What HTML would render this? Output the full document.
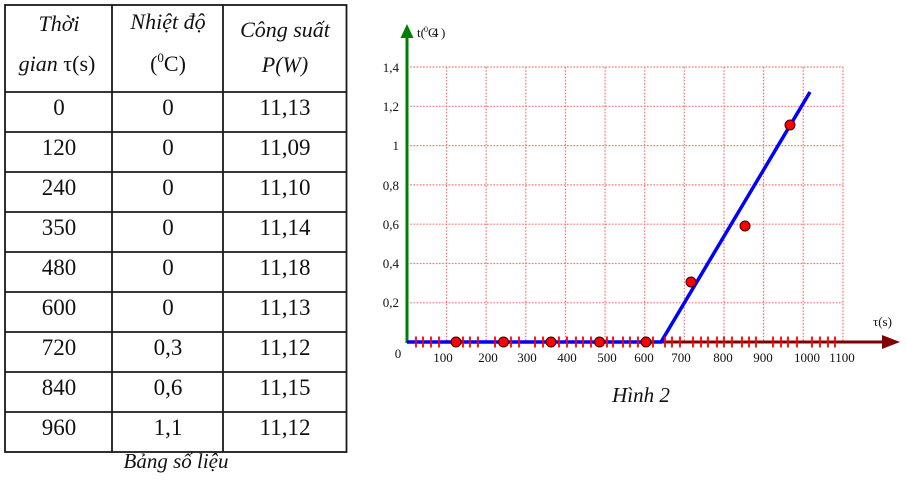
<!DOCTYPE html>
<html><head><meta charset="utf-8"><style>
html,body{margin:0;padding:0;background:#fff;}
svg{display:block;}
text{font-family:"Liberation Serif",serif;fill:#111;}
</style></head><body>
<svg width="907" height="485" viewBox="0 0 907 485" xmlns="http://www.w3.org/2000/svg">
<rect width="907" height="485" fill="#fff"/>
<!-- TABLE -->
<g stroke="#1a1a1a" stroke-width="1.8" fill="none">
<rect x="5" y="5" width="341.5" height="447"/>
<line x1="112" y1="5" x2="112" y2="452"/>
<line x1="223" y1="5" x2="223" y2="452"/>
<line x1="5" y1="92" x2="346.5" y2="92"/>
<line x1="5" y1="132" x2="346.5" y2="132"/>
<line x1="5" y1="172" x2="346.5" y2="172"/>
<line x1="5" y1="212" x2="346.5" y2="212"/>
<line x1="5" y1="252" x2="346.5" y2="252"/>
<line x1="5" y1="292" x2="346.5" y2="292"/>
<line x1="5" y1="332" x2="346.5" y2="332"/>
<line x1="5" y1="372" x2="346.5" y2="372"/>
<line x1="5" y1="412" x2="346.5" y2="412"/>
</g>
<g font-size="22" text-anchor="middle">
<text x="59" y="31" font-style="italic">Thời</text>
<text x="57" y="71"><tspan font-style="italic">gian</tspan> τ(s)</text>
<text x="168" y="29" font-style="italic">Nhiệt độ</text>
<text x="168" y="71">(<tspan font-size="13" dy="-9">0</tspan><tspan dy="9">C)</tspan></text>
<text x="285" y="37" font-style="italic">Công suất</text>
<text x="285" y="72" font-style="italic">P(W)</text>
</g>
<g font-size="23" text-anchor="middle">
<text x="59" y="115">0</text><text x="168" y="115">0</text><text x="285" y="115">11,13</text>
<text x="59" y="155">120</text><text x="168" y="155">0</text><text x="285" y="155">11,09</text>
<text x="59" y="195">240</text><text x="168" y="195">0</text><text x="285" y="195">11,10</text>
<text x="59" y="235">350</text><text x="168" y="235">0</text><text x="285" y="235">11,14</text>
<text x="59" y="275">480</text><text x="168" y="275">0</text><text x="285" y="275">11,18</text>
<text x="59" y="315">600</text><text x="168" y="315">0</text><text x="285" y="315">11,13</text>
<text x="59" y="355">720</text><text x="168" y="355">0,3</text><text x="285" y="355">11,12</text>
<text x="59" y="395">840</text><text x="168" y="395">0,6</text><text x="285" y="395">11,15</text>
<text x="59" y="435">960</text><text x="168" y="435">1,1</text><text x="285" y="435">11,12</text>
</g>
<text x="176" y="468" font-size="21" font-style="italic" text-anchor="middle">Bảng số liệu</text>

<!-- CHART GRID -->
<g stroke="#ff5a5a" stroke-width="1.2" stroke-dasharray="1.6,1.6" fill="none" opacity="0.85">
<line x1="407" y1="67" x2="843" y2="67"/>
<line x1="407" y1="106.3" x2="843" y2="106.3"/>
<line x1="407" y1="145.6" x2="843" y2="145.6"/>
<line x1="407" y1="184.9" x2="843" y2="184.9"/>
<line x1="407" y1="224.2" x2="843" y2="224.2"/>
<line x1="407" y1="263.5" x2="843" y2="263.5"/>
<line x1="407" y1="302.8" x2="843" y2="302.8"/>
<line x1="446.6" y1="67" x2="446.6" y2="342"/>
<line x1="486.2" y1="67" x2="486.2" y2="342"/>
<line x1="525.8" y1="67" x2="525.8" y2="342"/>
<line x1="565.5" y1="67" x2="565.5" y2="342"/>
<line x1="605.1" y1="67" x2="605.1" y2="342"/>
<line x1="644.7" y1="67" x2="644.7" y2="342"/>
<line x1="684.3" y1="67" x2="684.3" y2="342"/>
<line x1="724" y1="67" x2="724" y2="342"/>
<line x1="763.6" y1="67" x2="763.6" y2="342"/>
<line x1="803.2" y1="67" x2="803.2" y2="342"/>
<line x1="843" y1="67" x2="843" y2="342"/>
</g>

<!-- X axis -->
<line x1="407" y1="342" x2="886" y2="342" stroke="#800000" stroke-width="3"/>
<polygon points="900,342 882,335 882,349" fill="#800000"/>
<!-- Y axis -->
<line x1="407" y1="343" x2="407" y2="36" stroke="#008000" stroke-width="3"/>
<polygon points="407,24 400.5,38 413.5,38" fill="#008000"/>

<!-- blue line -->
<polyline points="407,342 661,342 810,92" fill="none" stroke="#0000ff" stroke-width="3.5" stroke-linejoin="miter"/>

<!-- ticks -->
<g stroke="#ff0000" stroke-width="1.8">
<line x1="416" y1="336.5" x2="416" y2="347.5"/><line x1="423" y1="336.5" x2="423" y2="347.5"/>
<line x1="431" y1="336.5" x2="431" y2="347.5"/><line x1="439" y1="336.5" x2="439" y2="347.5"/>
<line x1="463" y1="336.5" x2="463" y2="347.5"/><line x1="470" y1="336.5" x2="470" y2="347.5"/>
<line x1="478" y1="336.5" x2="478" y2="347.5"/><line x1="495" y1="336.5" x2="495" y2="347.5"/>
<line x1="511" y1="336.5" x2="511" y2="347.5"/><line x1="519" y1="336.5" x2="519" y2="347.5"/>
<line x1="535" y1="336.5" x2="535" y2="347.5"/><line x1="543" y1="336.5" x2="543" y2="347.5"/>
<line x1="559" y1="336.5" x2="559" y2="347.5"/><line x1="567" y1="336.5" x2="567" y2="347.5"/>
<line x1="576" y1="336.5" x2="576" y2="347.5"/><line x1="583" y1="336.5" x2="583" y2="347.5"/>
<line x1="591" y1="336.5" x2="591" y2="347.5"/><line x1="607" y1="336.5" x2="607" y2="347.5"/>
<line x1="613" y1="336.5" x2="613" y2="347.5"/><line x1="623" y1="336.5" x2="623" y2="347.5"/>
<line x1="630" y1="336.5" x2="630" y2="347.5"/><line x1="638" y1="336.5" x2="638" y2="347.5"/>
<line x1="653" y1="336.5" x2="653" y2="347.5"/><line x1="665" y1="336.5" x2="665" y2="347.5"/>
<line x1="672" y1="336.5" x2="672" y2="347.5"/><line x1="680" y1="336.5" x2="680" y2="347.5"/>
<line x1="693" y1="336.5" x2="693" y2="347.5"/><line x1="701" y1="336.5" x2="701" y2="347.5"/>
<line x1="708" y1="336.5" x2="708" y2="347.5"/><line x1="717" y1="336.5" x2="717" y2="347.5"/>
<line x1="724" y1="336.5" x2="724" y2="347.5"/><line x1="732" y1="336.5" x2="732" y2="347.5"/>
<line x1="742" y1="336.5" x2="742" y2="347.5"/><line x1="749" y1="336.5" x2="749" y2="347.5"/>
<line x1="756" y1="336.5" x2="756" y2="347.5"/><line x1="773" y1="336.5" x2="773" y2="347.5"/>
<line x1="781" y1="336.5" x2="781" y2="347.5"/><line x1="788" y1="336.5" x2="788" y2="347.5"/>
<line x1="797" y1="336.5" x2="797" y2="347.5"/><line x1="812" y1="336.5" x2="812" y2="347.5"/>
<line x1="820" y1="336.5" x2="820" y2="347.5"/><line x1="828" y1="336.5" x2="828" y2="347.5"/>
<line x1="835" y1="336.5" x2="835" y2="347.5"/>
</g>

<!-- dots -->
<g fill="#ff0000" stroke="#3a0000" stroke-width="1">
<circle cx="456" cy="342" r="5"/>
<circle cx="503.5" cy="342" r="5"/>
<circle cx="551" cy="342" r="5"/>
<circle cx="599.5" cy="342" r="5"/>
<circle cx="646" cy="342" r="5"/>
<circle cx="691" cy="282" r="5"/>
<circle cx="745" cy="226" r="5"/>
<circle cx="790" cy="125" r="5"/>
</g>

<!-- Y labels -->
<g font-size="13" text-anchor="end">
<text x="399" y="72">1,4</text>
<text x="399" y="111">1,2</text>
<text x="399" y="150">1</text>
<text x="399" y="190">0,8</text>
<text x="399" y="229">0,6</text>
<text x="399" y="268">0,4</text>
<text x="399" y="307">0,2</text>
</g>
<text x="398" y="358" font-size="13" text-anchor="middle">0</text>
<!-- X labels -->
<g font-size="13" text-anchor="middle">
<text x="443" y="362">100</text>
<text x="488" y="362">200</text>
<text x="527" y="362">300</text>
<text x="567" y="362">400</text>
<text x="607" y="362">500</text>
<text x="644" y="362">600</text>
<text x="681" y="362">700</text>
<text x="723" y="362">800</text>
<text x="763" y="362">900</text>
<text x="807" y="362">1000</text>
<text x="842" y="362">1100</text>
</g>
<text x="873" y="326" font-size="13">τ(s)</text>
<!-- y axis label -->
<text x="417" y="37" font-size="13">t(</text>
<text x="424" y="32" font-size="8">0</text>
<text x="428" y="37" font-size="13">C</text>
<text x="432" y="37" font-size="13">4</text>
<text x="441" y="37" font-size="13">)</text>

<text x="641" y="402" font-size="21" font-style="italic" text-anchor="middle">Hình 2</text>
</svg>
</body></html>
